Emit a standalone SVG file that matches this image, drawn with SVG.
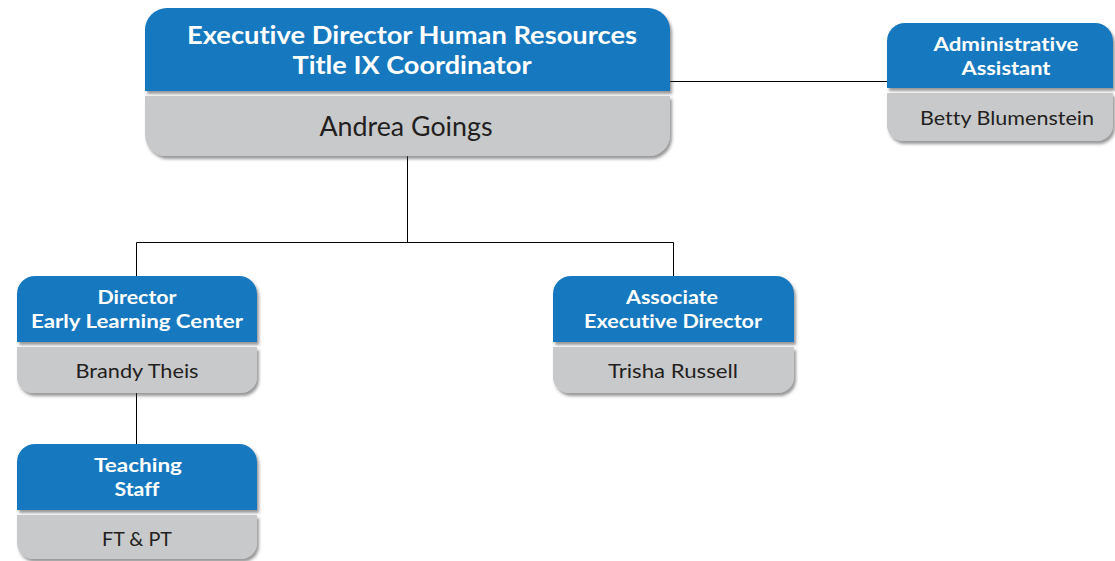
<svg xmlns="http://www.w3.org/2000/svg" width="1115" height="561" viewBox="0 0 1115 561">
<defs>
<filter id="sh" x="-5%" y="-10%" width="115%" height="130%">
<feDropShadow dx="2" dy="3" stdDeviation="1.8" flood-color="#444" flood-opacity="0.55"/>
</filter>
<style>
.b{fill:#1478be;filter:url(#sh)}
.g{fill:#c8c9cb;filter:url(#sh)}
text{font-variant-ligatures:none;font-feature-settings:"liga" 0,"dlig" 0}
.t{font-family:Lato,"Open Sans",sans-serif;font-weight:700;fill:#fff;text-anchor:middle}
.n{font-family:Lato,"Open Sans",sans-serif;font-weight:400;fill:#231f20;text-anchor:middle}
.c{fill:none;stroke:#000;stroke-width:1}
</style>
</defs>
<rect width="1115" height="561" fill="#fff"/>
<g id="connectors">
<path class="c" d="M407.5,156 V242.5 M136.5,242.5 H673.5 M136.5,242.5 V276 M673.5,242.5 V276 M670,81.5 H887 M136.5,393 V444"/>
</g>
<g id="n-exec">
<path class="b" d="M145,91 V30 A22,22 0 0 1 167,8 H648 A22,22 0 0 1 670,30 V91 Z"/>
<path class="g" d="M145,96 H670 V135 A21,21 0 0 1 649,156 H166 A21,21 0 0 1 145,135 Z"/>
<text class="t" x="412" y="44" font-size="25" textLength="450" lengthAdjust="spacingAndGlyphs">Executive Director Human Resources</text>
<text class="t" x="412" y="74" font-size="25" textLength="239" lengthAdjust="spacingAndGlyphs">Title IX Coordinator</text>
<text class="n" x="406" y="136" font-size="26" textLength="173" lengthAdjust="spacingAndGlyphs">Andrea Goings</text>
</g>
<g id="n-admin">
<path class="b" d="M887,88 V41 A18,18 0 0 1 905,23 H1095 A18,18 0 0 1 1113,41 V88 Z"/>
<path class="g" d="M887,93 H1113 V125 A16,16 0 0 1 1097,141 H903 A16,16 0 0 1 887,125 Z"/>
<text class="t" x="1006" y="51" font-size="19.5" textLength="145" lengthAdjust="spacingAndGlyphs">Administrative</text>
<text class="t" x="1006" y="75" font-size="19.5" textLength="89" lengthAdjust="spacingAndGlyphs">Assistant</text>
<text class="n" x="1007" y="125" font-size="20" textLength="174" lengthAdjust="spacingAndGlyphs">Betty Blumenstein</text>
</g>
<g id="n-elc">
<path class="b" d="M17,342 V294 A18,18 0 0 1 35,276 H239 A18,18 0 0 1 257,294 V342 Z"/>
<path class="g" d="M17,347 H257 V377 A16,16 0 0 1 241,393 H33 A16,16 0 0 1 17,377 Z"/>
<text class="t" x="137" y="304" font-size="19.5" textLength="79" lengthAdjust="spacingAndGlyphs">Director</text>
<text class="t" x="137" y="328" font-size="19.5" textLength="212" lengthAdjust="spacingAndGlyphs">Early Learning Center</text>
<text class="n" x="137" y="378" font-size="20" textLength="123" lengthAdjust="spacingAndGlyphs">Brandy Theis</text>
</g>
<g id="n-assoc">
<path class="b" d="M553,342 V294 A18,18 0 0 1 571,276 H776 A18,18 0 0 1 794,294 V342 Z"/>
<path class="g" d="M553,347 H794 V377 A16,16 0 0 1 778,393 H569 A16,16 0 0 1 553,377 Z"/>
<text class="t" x="672" y="304" font-size="19.5" textLength="92" lengthAdjust="spacingAndGlyphs">Associate</text>
<text class="t" x="673" y="328" font-size="19.5" textLength="178" lengthAdjust="spacingAndGlyphs">Executive Director</text>
<text class="n" x="673" y="378" font-size="20" textLength="130" lengthAdjust="spacingAndGlyphs">Trisha Russell</text>
</g>
<g id="n-teach">
<path class="b" d="M17,510 V462 A18,18 0 0 1 35,444 H239 A18,18 0 0 1 257,462 V510 Z"/>
<path class="g" d="M17,515 H257 V543 A16,16 0 0 1 241,559 H33 A16,16 0 0 1 17,543 Z"/>
<text class="t" x="138" y="472" font-size="19.5" textLength="88" lengthAdjust="spacingAndGlyphs">Teaching</text>
<text class="t" x="137" y="496" font-size="19.5" textLength="45" lengthAdjust="spacingAndGlyphs">Staff</text>
<text class="n" x="137" y="546" font-size="20" textLength="70" lengthAdjust="spacingAndGlyphs">FT &amp; PT</text>
</g>
</svg>
